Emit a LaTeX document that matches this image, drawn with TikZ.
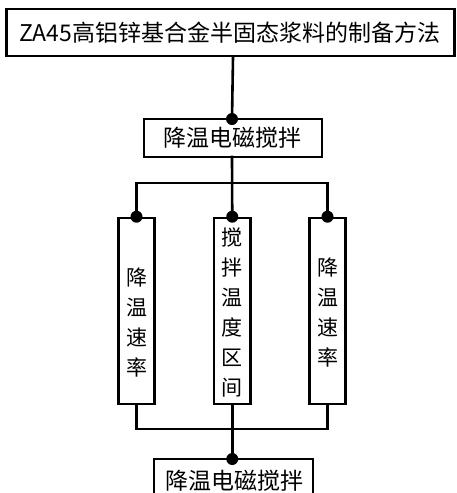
\documentclass[tikz,border=0pt]{standalone}
\usepackage{fontspec}
\setmainfont{Noto Sans CJK SC}
\begin{document}
\begin{tikzpicture}[x=1pt,y=-1pt,
  box/.style={draw=black,line width=2.6pt,rectangle,inner sep=0pt,minimum width=#1},
  lbl/.style={inner sep=0pt,align=center},
  conn/.style={line width=2.6pt,line cap=rect},
  dot/.style={circle,fill=black,inner sep=0pt,minimum size=12pt}]
\useasboundingbox (0,0) rectangle (456,493);
% boxes
\node[box=448pt,minimum height=47pt] (top) at (230.5,32.5) {};
\node[box=178pt,minimum height=38pt] (mid) at (233,138) {};
\node[box=36pt,minimum height=186pt] (colL) at (136.5,311) {};
\node[box=36.5pt,minimum height=186pt] (colM) at (232.25,311) {};
\node[box=36pt,minimum height=186pt] (colR) at (327.5,311) {};
\node[box=159pt,minimum height=60pt] (bot) at (233.5,489) {};
% texts
\node[lbl,anchor=west,font=\fontsize{23}{23}\selectfont] (ttop) at (19,32.5) {ZA45高铝锌基合金半固态浆料的制备方法};
\node[lbl,font=\fontsize{23}{23}\selectfont] (tmid) at (232,138) {降温电磁搅拌};
\node[lbl,font=\fontsize{21}{30}\selectfont] (tL) at (136.5,323) {降\\温\\速\\率};
\node[lbl,font=\fontsize{21}{30}\selectfont] (tM) at (232.25,312) {搅\\拌\\温\\度\\区\\间};
\node[lbl,font=\fontsize{21}{30}\selectfont] (tR) at (327.5,313) {降\\温\\速\\率};
\node[lbl,font=\fontsize{23}{23}\selectfont] (tbot) at (234,480.5) {降温电磁搅拌};
% coordinates
\coordinate (b1L) at (136.5,183);
\coordinate (b1R) at (327.5,183);
\coordinate (b2L) at (136.5,429);
\coordinate (b2R) at (327.5,429);
\coordinate (b2M) at (232.25,429);
% connectors
\draw[conn] (top.south -| mid.north) -- (232,119);
\draw[conn] (232,157) -- (colM.north);
\draw[conn] (b1L) -- (b1R);
\draw[conn] (b1L) -- (colL.north);
\draw[conn] (b1R) -- (colR.north);
\draw[conn] (colL.south) -- (b2L) -- (b2R) -- (colR.south);
\draw[conn] (colM.south) -- (b2M) -- (232.25,459);
% dots
\node[dot] (d1) at (232,119) {};
\node[dot] (d2) at (colL.north) {};
\node[dot] (d3) at (colM.north) {};
\node[dot] (d4) at (colR.north) {};
\node[dot] (d5) at (232.25,459) {};
\end{tikzpicture}
\end{document}
